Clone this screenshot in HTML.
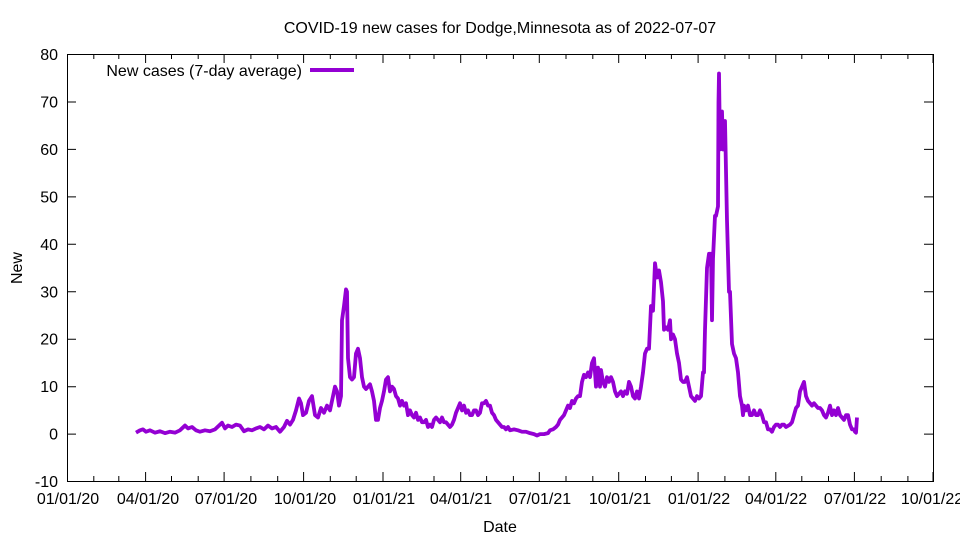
<!DOCTYPE html>
<html><head><meta charset="utf-8"><style>
html,body{margin:0;padding:0;background:#fff;}
svg text{font-family:"Liberation Sans",sans-serif;font-size:16px;fill:#000;}
</style></head><body>
<svg width="960" height="540" viewBox="0 0 960 540" xmlns="http://www.w3.org/2000/svg">
<rect width="960" height="540" fill="#fff"/>
<text x="500" y="33" text-anchor="middle">COVID-19 new cases for Dodge,Minnesota as of 2022-07-07</text>
<g stroke="#000" stroke-width="1" fill="none">
<rect x="67.5" y="54.5" width="866" height="427"/>
<path d="M67 54.5h9M933 54.5h-9M67 102h9M933 102h-9M67 149.4h9M933 149.4h-9M67 196.9h9M933 196.9h-9M67 244.3h9M933 244.3h-9M67 291.8h9M933 291.8h-9M67 339.2h9M933 339.2h-9M67 386.7h9M933 386.7h-9M67 434.1h9M933 434.1h-9"/>
<path d="M67.5 481v-9M67.5 54v9M145.6 481v-9M145.6 54v9M224.1 481v-9M224.1 54v9M303.6 481v-9M303.6 54v9M383 481v-9M383 54v9M460.7 481v-9M460.7 54v9M539.3 481v-9M539.3 54v9M618.7 481v-9M618.7 54v9M698.1 481v-9M698.1 54v9M775.8 481v-9M775.8 54v9M854.4 481v-9M854.4 54v9M933 481v-9M933 54v9"/>
<path d="M93.8 481v-5M93.8 54v5M118.8 481v-5M118.8 54v5M171.5 481v-5M171.5 54v5M198.2 481v-5M198.2 54v5M250.9 481v-5M250.9 54v5M277.7 481v-5M277.7 54v5M330.3 481v-5M330.3 54v5M356.2 481v-5M356.2 54v5M409.8 481v-5M409.8 54v5M434 481v-5M434 54v5M486.6 481v-5M486.6 54v5M513.4 481v-5M513.4 54v5M566 481v-5M566 54v5M592.8 481v-5M592.8 54v5M645.5 481v-5M645.5 54v5M671.4 481v-5M671.4 54v5M724.9 481v-5M724.9 54v5M749.1 481v-5M749.1 54v5M801.8 481v-5M801.8 54v5M828.5 481v-5M828.5 54v5M881.2 481v-5M881.2 54v5M907.9 481v-5M907.9 54v5"/>
</g>
<g text-anchor="end">
<text x="58" y="60">80</text><text x="58" y="107.5">70</text><text x="58" y="155">60</text><text x="58" y="202.4">50</text><text x="58" y="249.8">40</text><text x="58" y="297.3">30</text><text x="58" y="344.7">20</text><text x="58" y="392.2">10</text><text x="58" y="439.6">0</text><text x="58" y="487">-10</text>
</g>
<g text-anchor="middle">
<text x="68" y="504">01/01/20</text><text x="148" y="504">04/01/20</text><text x="226" y="504">07/01/20</text><text x="305" y="504">10/01/20</text><text x="384" y="504">01/01/21</text><text x="461" y="504">04/01/21</text><text x="540" y="504">07/01/21</text><text x="620" y="504">10/01/21</text><text x="699" y="504">01/01/22</text><text x="776" y="504">04/01/22</text><text x="855" y="504">07/01/22</text><text x="932" y="504">10/01/22</text>
</g>
<text x="500" y="532" text-anchor="middle">Date</text>
<text x="22" y="268" text-anchor="middle" transform="rotate(-90 22 268)">New</text>
<text x="302" y="76" text-anchor="end">New cases (7-day average)</text>
<line x1="310" y1="70" x2="354" y2="70" stroke="#9400D3" stroke-width="4"/>
<polyline fill="none" stroke="#9400D3" stroke-width="3.8" stroke-linejoin="round" vector-effect="non-scaling-stroke" transform="translate(0,434.1) scale(1,-4.744)" points="136,0.3 140,0.8 143,1 146,0.5 150,0.8 155,0.3 160,0.6 165,0.2 170,0.5 175,0.3 180,0.8 185,1.8 188,1.2 192,1.5 196,0.8 200,0.5 205,0.8 210,0.6 215,1 220,2 222,2.4 225,1.2 228,1.8 232,1.5 236,2 240,1.8 244,0.6 248,1 252,0.8 256,1.2 260,1.5 264,1.0 268,1.8 272,1.2 276,1.5 280,0.5 284,1.5 287,2.8 290,2 293,3 296,5 299,7.5 301,6.5 303,4 306,4.5 309,7 312,8 315,4 318,3.5 321,5.5 324,4.5 327,6 330,5 333,8 335,10 337,9 339,6 341,8 342,24 344,27 346,30.5 347,30 348,16 350,12 352,11.5 354,12 356,17 358,18 360,16 362,12 364,10 366,9.5 368,10 370,10.5 372,9 374,7 376,3 378,3 380,5.5 382,7 384,9 386,11.5 388,12 390,9 392,10 394,9.5 396,8 398,7.5 400,6 402,7 404,6 406,6.5 408,4 410,5 412,4 414,3.5 416,4.5 418,3 420,3.5 422,2.5 424,2.5 426,3 428,1.5 430,2 432,1.5 434,3 436,3.5 438,3 440,2.5 442,3.5 444,2.5 446,2.5 448,2 450,1.5 452,2 454,3 456,4.5 458,5.5 460,6.5 462,5 464,6 466,4.5 468,5 470,4 472,4 474,5 476,5 478,4 480,4.5 482,6.5 484,6.5 486,7 488,6 490,6 492,4.5 494,4 496,3 498,2.5 500,2 502,1.5 504,1.5 506,1 508,1.5 510,0.8 514,1 518,0.8 522,0.5 526,0.5 530,0.2 534,0 537,-0.3 540,0 544,0 548,0.2 550,0.8 553,1 556,1.5 558,2 560,3 562,3.5 564,4 566,5 568,6 570,5.5 572,7 574,6.5 576,7.5 578,8 580,8 582,11 584,12.5 586,12 588,13 590,12 592,15 594,16 596,10 598,14 600,10 601,13.5 603,11 605,10 607,12 609,11 611,12 613,11 615,9 617,8 619,8.5 621,9 623,8 625,9 627,8.5 629,11 631,10 633,8 635,7.5 637,9 639,7.5 641,10 643,13 645,17 647,18 649,18 651,27 653,26 655,36 657,33 659,34.5 661,32 663,28 664,22 666,22.5 668,22 670,24 671,20 673,21 675,20 677,17 679,15 681,11.5 683,11 685,11 687,12 689,10 691,8 693,7.5 695,7 697,8 699,7.5 701,8 703,13 704,13 705,22 707,35 709,38 711,38 712,24 713,37 715,46 716,46 718,48 718.5,70 719,76 720,60 722,68 723,60 725,66 727,45 729,30 730,30 732,19 734,17 736,16 738,13 740,8 742,6 743,4 744,6 746,5 748,6 750,4 752,4 754,5 756,4 758,4 760,5 762,4 764,2.5 766,2.5 768,1 770,1 772,0.5 774,1.5 776,2 778,2 780,1.5 782,2 784,2 786,1.5 790,2 792,2.5 794,4 796,5.5 798,6 800,9 802,10 804,11 806,8 808,7 810,6.5 812,6 814,6.5 816,6 818,5.5 820,5.5 822,5 824,4 826,3.5 828,4.5 830,6 832,4 834,5 836,4 838,5.5 840,4 842,3.5 844,3 846,4 848,4 850,2 852,1 854,1 855,0.5 856,0.3 857,3.5"/>
</svg>
</body></html>
